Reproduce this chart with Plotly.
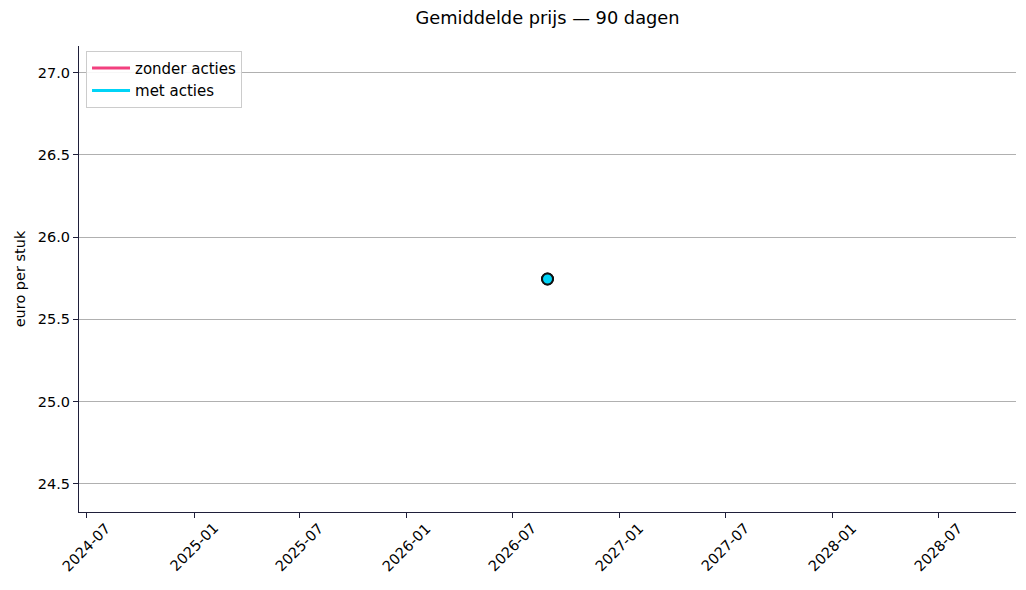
import pandas as pd
import plotly.graph_objects as go

# Data (one measurement so far)
dates = ['2026-08-30']
zonder_acties = [25.745]
met_acties = [25.745]

tick_dates = ['2024-07-01', '2025-01-01', '2025-07-01', '2026-01-01', '2026-07-01',
              '2027-01-01', '2027-07-01', '2028-01-01', '2028-07-01']
tick_labels = ['2024-07', '2025-01', '2025-07', '2026-01', '2026-07',
               '2027-01', '2027-07', '2028-01', '2028-07']
y_ticks = [24.5, 25.0, 25.5, 26.0, 26.5, 27.0]

pink = '#f2407f'
cyan = '#00d4f7'

fig = go.Figure()

for name, vals, col in [('zonder acties', zonder_acties, pink), ('met acties', met_acties, cyan)]:
    # line trace (carries the legend entry)
    fig.add_trace(go.Scatter(x=dates, y=vals, name=name, mode='lines',
                             line=dict(color=col, width=3)))
    # the point itself
    fig.add_trace(go.Scatter(x=dates, y=vals, name=name, mode='markers', showlegend=False,
                             marker=dict(color=col, size=11, line=dict(color='#111111', width=2))))

# axis range like matplotlib's singular expansion
center = pd.to_datetime(dates[0])
half = pd.Timedelta(days=2.2 * 365.25)
v = zonder_acties[0]
yhalf = v * 0.05 * 1.1

# rotated date labels centred under their ticks (matplotlib style)
for d, lab in zip(tick_dates, tick_labels):
    fig.add_annotation(x=d, y=0, xref='x', yref='paper', text=lab, showarrow=False,
                       textangle=-45, xanchor='center', yanchor='top', yshift=-5,
                       font=dict(size=14.5, color='#000000'))

fig.update_layout(
    width=1010, height=574,
    template='plotly_white',
    font=dict(family='DejaVu Sans', size=14.5, color='#000000'),
    title=dict(text='Gemiddelde prijs — 90 dagen', x=0.5, xref='paper', xanchor='center',
               y=1 - 10 / 574, yanchor='middle', font=dict(size=17.8)),
    margin=dict(l=71, r=2, t=38, b=70),
    plot_bgcolor='white',
    paper_bgcolor='white',
    legend=dict(x=0.0075, y=0.99, xanchor='left', yanchor='top',
                bgcolor='rgba(255,255,255,0.9)', bordercolor='#cccccc', borderwidth=1,
                font=dict(size=15), itemwidth=38),
    showlegend=True,
)

fig.update_xaxes(
    range=[center - half, center + half],
    tickvals=tick_dates, showticklabels=False,
    showgrid=False, zeroline=False, automargin=False,
    showline=True, linecolor='#1f1f3a', linewidth=1,
    ticks='outside', ticklen=5, tickcolor='#1f1f3a',
)
fig.update_yaxes(
    range=[v - yhalf, v + yhalf],
    tickvals=y_ticks, tickformat='.1f', automargin=False,
    title=dict(text='euro per stuk', standoff=8, font=dict(size=14.5)),
    showgrid=True, gridcolor='#b0b0b0', gridwidth=1, zeroline=False,
    showline=True, linecolor='#1f1f3a', linewidth=1,
    ticks='outside', ticklen=5, tickcolor='#1f1f3a',
    tickfont=dict(size=14.5),
)

fig.write_html("out.html")
